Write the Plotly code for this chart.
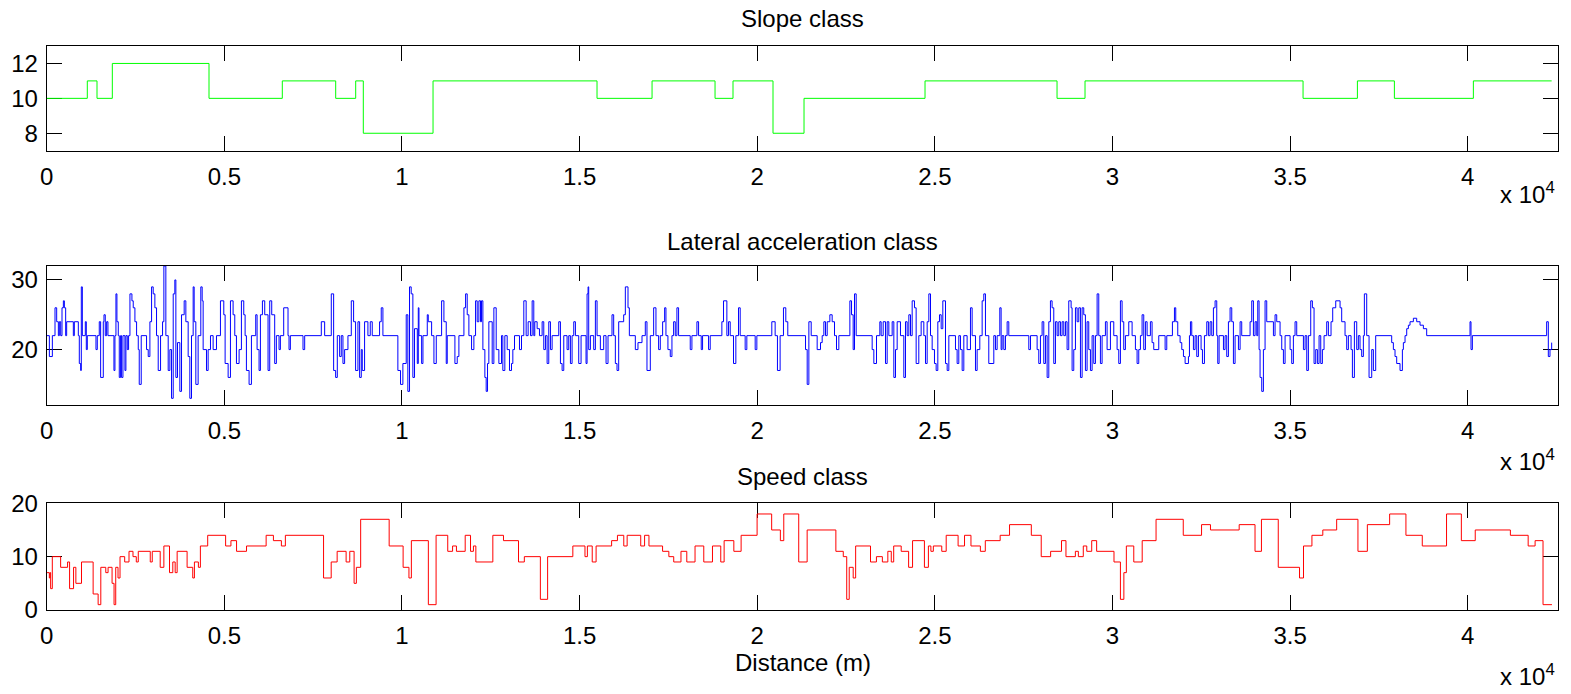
import plotly.graph_objects as go

# ---------------- data ----------------
slope_dist = [0, 1143, 1416, 1847, 4569, 6632, 8135, 8698, 8912, 10875, 15491, 17040, 18813,
              19319, 20445, 21318, 24724, 28440, 29228, 35365, 36895, 37936, 40159, 42363]
slope_val = [10, 11, 10, 12, 10, 11, 10, 11, 8, 11, 10, 11, 10, 11, 8, 10, 11, 10, 11, 10, 11, 10, 11, 11]

lat_dist = [0, 75, 159, 234, 281, 328, 356, 394, 431, 469, 497, 534, 562, 750, 778, 890, 918, 956, 974, 1003,
            1087, 1115, 1143, 1387, 1424, 1480, 1518, 1593, 1612, 1649, 1687, 1724, 1893, 1921, 1949, 1977,
            2015, 2043, 2080, 2108, 2146, 2202, 2230, 2268, 2305, 2343, 2399, 2436, 2483, 2530, 2577, 2605,
            2661, 2811, 2858, 2905, 2952, 2998, 3045, 3092, 3139, 3205, 3261, 3298, 3354, 3420, 3467, 3514,
            3561, 3607, 3636, 3682, 3748, 3795, 3870, 3917, 3982, 4029, 4076, 4123, 4151, 4198, 4263, 4338,
            4376, 4404, 4498, 4544, 4610, 4685, 4779, 4891, 4985, 5022, 5107, 5172, 5247, 5294, 5341, 5416,
            5481, 5547, 5585, 5622, 5697, 5763, 5884, 5922, 5978, 6016, 6072, 6137, 6231, 6278, 6334, 6418,
            6465, 6540, 6578, 6671, 6793, 6821, 6859, 7215, 7262, 7730, 7824, 8011, 8077, 8133, 8180, 8246,
            8292, 8339, 8386, 8480, 8574, 8639, 8695, 8761, 8808, 8855, 8883, 8948, 9042, 9108, 9164, 9370,
            9417, 9464, 9885, 9960, 10026, 10120, 10166, 10213, 10260, 10307, 10354, 10432, 10460, 10479,
            10554, 10591, 10713, 10741, 10835, 10900, 10966, 11116, 11181, 11247, 11275, 11491, 11556, 11603,
            11744, 11791, 11837, 11884, 11959, 12025, 12072, 12118, 12165, 12212, 12240, 12278, 12334, 12371,
            12409, 12446, 12540, 12587, 12653, 12728, 12802, 12840, 12896, 12962, 13027, 13084, 13121, 13168,
            13308, 13365, 13430, 13496, 13552, 13618, 13665, 13711, 13739, 13805, 13871, 13946, 13992, 14039,
            14086, 14133, 14180, 14227, 14414, 14461, 14508, 14555, 14648, 14695, 14742, 14789, 14836, 14883,
            14976, 15042, 15182, 15211, 15239, 15257, 15304, 15398, 15445, 15492, 15585, 15679, 15745, 15801,
            15913, 15960, 16007, 16054, 16101, 16241, 16288, 16363, 16401, 16569, 16644, 16757, 16850, 16897,
            16991, 17085, 17150, 17225, 17272, 17338, 17394, 17431, 17487, 17553, 17600, 17647, 17694, 17740,
            17787, 18115, 18162, 18303, 18350, 18424, 18462, 18631, 18677, 19005, 19052, 19146, 19193, 19240,
            19333, 19399, 19474, 19521, 19661, 19708, 19943, 19990, 20411, 20505, 20570, 20645, 20739, 20805,
            20861, 21360, 21407, 21454, 21520, 21688, 21782, 21829, 21876, 21923, 21970, 22045, 22110, 22176,
            22232, 22298, 22608, 22655, 22701, 22739, 22786, 23236, 23283, 23358, 23452, 23489, 23546, 23611,
            23658, 23705, 23799, 23846, 23893, 23940, 24033, 24127, 24174, 24221, 24268, 24315, 24362, 24427,
            24474, 24549, 24615, 24690, 24737, 24784, 24831, 24878, 24925, 24990, 25037, 25084, 25131, 25178,
            25225, 25300, 25347, 25394, 25581, 25628, 25675, 25722, 25769, 25816, 25909, 26003, 26050, 26144,
            26191, 26266, 26332, 26378, 26425, 26519, 26660, 26707, 26754, 26829, 26866, 26894, 26941, 26988,
            27035, 27082, 27645, 27692, 27879, 27926, 27973, 28020, 28067, 28114, 28161, 28208, 28254, 28301,
            28348, 28395, 28442, 28489, 28536, 28583, 28630, 28677, 28723, 28770, 28836, 28864, 28911, 28958,
            29005, 29052, 29099, 29146, 29192, 29239, 29286, 29333, 29380, 29427, 29474, 29521, 29568, 29615,
            29661, 29708, 29802, 29849, 29943, 30037, 30130, 30177, 30224, 30271, 30318, 30365, 30459, 30553,
            30646, 30693, 30740, 30787, 30834, 30881, 30928, 30975, 31068, 31115, 31162, 31303, 31482, 31529,
            31688, 31745, 31782, 31838, 31904, 31951, 31998, 32045, 32139, 32167, 32195, 32232, 32279, 32326,
            32373, 32420, 32495, 32533, 32589, 32655, 32701, 32748, 32795, 32842, 32889, 32936, 32964, 33002,
            33124, 33170, 33217, 33264, 33311, 33358, 33405, 33452, 33546, 33593, 33639, 33874, 33921, 33968,
            34015, 34062, 34090, 34127, 34155, 34202, 34249, 34296, 34343, 34531, 34577, 34624, 34718, 34765,
            34812, 34859, 35000, 35046, 35093, 35140, 35187, 35375, 35422, 35469, 35515, 35581, 35628, 35675,
            35722, 35769, 35816, 35863, 35909, 35956, 36031, 36078, 36153, 36200, 36285, 36407, 36453, 36547,
            36594, 36641, 36716, 36754, 36810, 36876, 36922, 36969, 37016, 37063, 37091, 37157, 37223, 37298,
            37345, 37410, 37860, 37907, 37954, 38001, 38095, 38161, 38189, 38236, 38283, 38330, 38376, 38470,
            38564, 38658, 38752, 38845, 40065, 40093, 40131, 42222, 42269, 42316, 42363]
lat_val = [22, 19, 22, 26, 24, 22, 24, 22, 26, 27, 26, 22, 24, 22, 24, 22, 18, 17, 29, 22,
           24, 20, 22, 20, 22, 24, 16, 24, 25, 22, 24, 22, 17, 22, 28, 24,
           22, 16, 22, 16, 22, 17, 22, 20, 22, 28, 27, 26, 24, 22, 20, 15,
           22, 20, 19, 24, 29, 28, 26, 22, 17, 22, 24, 32, 22, 17, 20, 13,
           28, 30, 16, 21, 14, 25, 27, 24, 19, 13, 22, 29, 24, 15, 22, 29,
           27, 20, 17, 20, 22, 20, 22, 27, 25, 18, 16, 27, 25, 22, 18, 20,
           27, 25, 22, 17, 15, 22, 25, 20, 17, 25, 27, 25, 17, 27, 25, 18,
           22, 20, 22, 26, 22, 20, 22, 20, 22, 24, 22, 28, 17, 16, 22, 19,
           22, 18, 20, 22, 27, 24, 17, 24, 16, 20, 17, 24, 22, 24, 22, 24,
           26, 22, 17, 15, 18, 25, 14, 29, 28, 16, 23, 18, 26, 22,
           18, 22, 25, 24, 22, 18, 22, 27, 24, 18, 22, 18, 19, 22,
           26, 28, 25, 22, 20, 22, 27, 24, 27, 24, 27, 20, 16, 14,
           18, 24, 18, 26, 20, 18, 22, 17, 22, 20, 17, 18, 20, 22,
           20, 22, 27, 22, 24, 22, 27, 22, 24, 23, 22, 24, 20, 22,
           18, 24, 20, 22, 24, 18, 17, 22, 20, 22, 18, 22, 24, 22,
           18, 22, 18, 28, 29, 20, 22, 20, 27, 22, 20, 22, 18, 22,
           25, 22, 18, 17, 24, 25, 29, 26, 22, 20, 21, 22, 24, 17,
           22, 26, 22, 20, 22, 24, 26, 22, 20, 19, 22, 24, 22, 26,
           22, 20, 22, 24, 22, 20, 22, 20, 22, 24, 27, 22, 24, 22,
           18, 22, 26, 22, 20, 22, 20, 22, 24, 22, 17, 22, 26, 24,
           22, 20, 15, 24, 22, 20, 21, 22, 24, 22, 24, 25, 24, 22,
           20, 22, 27, 25, 20, 28, 22, 20, 18, 22, 24, 22, 24, 18,
           24, 22, 24, 16, 20, 24, 22, 16, 24, 22, 25, 22, 27, 26,
           18, 22, 24, 22, 18, 24, 28, 22, 20, 18, 17, 24, 25, 23,
           27, 18, 17, 22, 20, 18, 22, 20, 17, 22, 20, 26, 22, 17,
           20, 22, 27, 28, 22, 18, 22, 20, 22, 26, 20, 22, 20, 22,
           24, 22, 20, 22, 20, 18, 22, 24, 18, 22, 16, 24, 27, 26,
           18, 24, 22, 24, 22, 24, 22, 24, 20, 27, 26, 17, 20, 26,
           24, 26, 16, 26, 25, 17, 24, 20, 17, 22, 18, 22, 28, 22,
           18, 22, 24, 20, 24, 22, 20, 18, 27, 24, 20, 22, 24, 22,
           20, 18, 20, 22, 25, 20, 24, 22, 24, 21, 20, 22, 20, 22,
           24, 26, 24, 22, 21, 20, 19, 18, 19, 22, 24, 22, 20, 22,
           19, 22, 20, 18, 22, 24, 22, 24, 22, 26, 27, 22, 18, 22,
           20, 22, 19, 24, 26, 24, 18, 22, 20, 24, 22, 24, 27, 22,
           24, 22, 27, 20, 16, 14, 20, 27, 24, 22, 25, 24, 22, 20,
           18, 22, 20, 18, 22, 24, 22, 20, 22, 17, 22, 27, 26, 18,
           20, 18, 22, 18, 20, 22, 24, 22, 24, 26, 27, 26, 24, 22,
           20, 22, 20, 16, 24, 20, 22, 20, 19, 22, 28, 22, 16, 20,
           17, 22, 21, 20, 19, 18, 17, 20, 21, 22, 23, 23.5, 24, 24.5,
           24, 23.5, 23, 22, 24, 20, 22, 24, 19, 20, 21]

speed_dist = [0, 74, 93, 111, 158, 392, 588, 644, 756, 821, 980, 1307, 1448, 1523, 1663, 1728, 1840,
              1896, 1943, 2008, 2064, 2195, 2317, 2429, 2522, 2578, 2915, 2971, 3195, 3298, 3457, 3550,
              3616, 3672, 3952, 4111, 4158, 4270, 4326, 4532, 5036, 5186, 5344, 5625, 6177, 6382, 6606,
              6718, 7793, 8008, 8176, 8428, 8531, 8653, 8717, 8838, 9640, 10033, 10197, 10265, 10743,
              10961, 11289, 11425, 11534, 11780, 11930, 12012, 12080, 12558, 12858, 13281, 13445, 13896,
              14100, 14810, 15152, 15220, 15356, 15465, 15902, 16066, 16244, 16339, 16721, 16830, 16953,
              17336, 17513, 17650, 17854, 18018, 18250, 18496, 18741, 18974, 19069, 19342, 19547, 19997,
              20407, 20652, 20748, 21169, 21406, 22214, 22423, 22520, 22590, 22702, 22771, 23189, 23356,
              23523, 23677, 23774, 23842, 24053, 24262, 24373, 24707, 24819, 24889, 24958, 25195, 25320,
              25655, 25836, 26017, 26282, 26421, 26839, 27103, 27716, 27995, 28260, 28566, 28691, 28956,
              29040, 29179, 29277, 29416, 29555, 30043, 30224, 30321, 30391, 30600, 30837, 31227, 31993,
              32508, 32759, 33567, 34013, 34194, 34667, 35266, 35378, 35615, 35921, 36311, 36910, 37175,
              37802, 38261, 38721, 39404, 39821, 40212, 41201, 41702, 41897, 42120, 42371]
speed_val = [7, 6, 7, 4, 10, 8, 9, 4, 8, 5, 9, 3, 1, 8, 7, 8, 5,
             1, 8, 6, 10, 9, 11, 10, 9, 11, 9, 11, 8, 12, 7, 9,
             7, 11, 8, 6, 9, 8, 12, 14, 12, 13, 11, 12, 14, 13, 12,
             14, 6, 9, 11, 9, 11, 5, 8, 17, 12, 8, 6, 13, 1,
             14, 11, 12, 11, 14, 11, 12, 9, 14, 13, 9, 10, 2,
             10, 12, 10, 12, 9, 12, 13, 14, 12, 14, 12, 14, 12,
             11, 10, 9, 11, 9, 12, 9, 12, 9, 13, 11, 14, 18,
             15, 13, 18, 9, 15, 11, 10, 2, 8, 6, 12, 9, 10,
             9, 11, 9, 12, 11, 8, 13, 8, 12, 11, 12, 11, 14,
             12, 14, 12, 11, 13, 14, 16, 14, 10, 11, 13, 10, 11,
             10, 12, 11, 13, 11, 9, 2, 7, 12, 9, 13, 17, 14,
             16, 15, 16, 11, 17, 8, 6, 12, 14, 15, 17, 11, 16,
             18, 14, 12, 18, 13, 15, 14, 12, 13, 1, 1]

x_tickvals = [0, 5000, 10000, 15000, 20000, 25000, 30000, 35000, 40000]
x_ticktext = ['0', '0.5', '1', '1.5', '2', '2.5', '3', '3.5', '4']

titles = ['Slope class', 'Lateral acceleration class', 'Speed class']
xlabel = 'Distance (m)'

# ---------------- layout geometry (pixels) ----------------
W, H = 1571, 694
L, R = 46.7, 1558.3
boxes = [(46, 150.7), (266, 405.3), (503.3, 610)]
yranges = [[7, 13], [12, 32], [0, 20]]
ytickvals = [[8, 10, 12], [20, 30], [0, 10, 20]]
title_y = [18.5, 241, 476]
mult_y = [198, 465, 680]

FONT = 'Liberation Sans, Arial, Helvetica, sans-serif'
FS = 24

fig = go.Figure()
series = [(slope_dist, slope_val, '#00ff00'),
          (lat_dist, lat_val, '#0000ff'),
          (speed_dist, speed_val, '#ff0000')]
for i, (xs, ys, col) in enumerate(series):
    sfx = '' if i == 0 else str(i + 1)
    fig.add_trace(go.Scatter(x=xs, y=ys, mode='lines', xaxis='x' + sfx, yaxis='y' + sfx,
                             line=dict(color=col, width=1, shape='hv'), showlegend=False,
                             hoverinfo='skip'))

layout = dict(width=W, height=H, margin=dict(l=0, r=0, t=0, b=0, autoexpand=False),
              template='none',
              paper_bgcolor='white', plot_bgcolor='white', showlegend=False,
              font=dict(family=FONT, size=FS, color='black'))
annotations = []
for i, (top, bot) in enumerate(boxes):
    sfx = '' if i == 0 else str(i + 1)
    common = dict(showline=True, linecolor='black', linewidth=1, mirror='ticks',
                  ticks='inside', ticklen=15, tickwidth=1, tickcolor='black',
                  showgrid=False, zeroline=False, automargin=False, layer='below traces',
                  tickfont=dict(family=FONT, size=FS, color='black'))
    layout['xaxis' + sfx] = dict(common, domain=[L / W, R / W], range=[0, 42550],
                                 tickmode='array', tickvals=x_tickvals, ticktext=x_ticktext,
                                 anchor='y' + sfx, ticklabelstandoff=4)
    layout['yaxis' + sfx] = dict(common, domain=[1 - bot / H, 1 - top / H], range=yranges[i],
                                 tickmode='array', tickvals=ytickvals[i],
                                 anchor='x' + sfx, ticklabelstandoff=3)
    annotations.append(dict(text=titles[i], xref='paper', yref='paper',
                            x=(L + R) / 2 / W, y=1 - title_y[i] / H, xanchor='center',
                            yanchor='middle', showarrow=False,
                            font=dict(family=FONT, size=FS, color='black')))
    annotations.append(dict(text='x 10<sup>4</sup>', xref='paper', yref='paper',
                            x=1557 / W, y=1 - (mult_y[i] - 5) / H, xanchor='right',
                            yanchor='middle', showarrow=False,
                            font=dict(family=FONT, size=FS, color='black')))
annotations.append(dict(text=xlabel, xref='paper', yref='paper', x=(L + R) / 2 / W,
                        y=1 - 662 / H, xanchor='center', yanchor='middle', showarrow=False,
                        font=dict(family=FONT, size=FS, color='black')))
layout['annotations'] = annotations
fig.update_layout(**layout)
fig.write_html('out.html')
